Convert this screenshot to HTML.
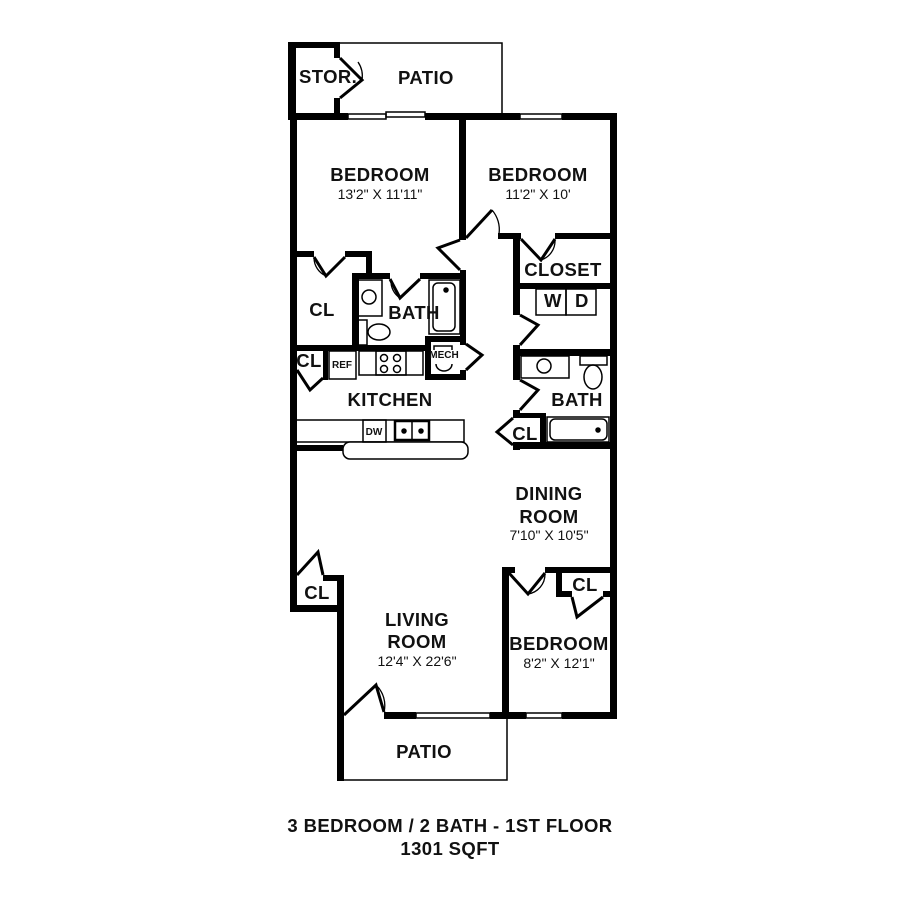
<!DOCTYPE html>
<html><head><meta charset="utf-8"><style>
html,body{margin:0;padding:0;background:#fff}
svg{display:block}
text{font-family:"Liberation Sans",sans-serif;fill:#111}
.r{font-size:18.5px;font-weight:bold;letter-spacing:0.4px}
.d{font-size:14px}
.s{font-size:10px;font-weight:bold}
</style></head><body>
<svg width="900" height="900" viewBox="0 0 900 900" xmlns="http://www.w3.org/2000/svg">
<g fill="#000">
<rect x="288" y="42" width="52" height="6"/>
<rect x="288" y="42" width="8" height="78"/>
<rect x="334" y="42" width="6" height="16"/>
<rect x="334" y="98" width="6" height="20"/>
<rect x="290" y="113" width="58" height="7"/>
<rect x="425" y="113" width="95" height="7"/>
<rect x="562" y="113" width="55" height="7"/>
<rect x="610" y="113" width="7" height="606"/>
<rect x="290" y="113" width="7" height="499"/>
<rect x="290" y="605" width="54" height="7"/>
<rect x="337" y="575" width="7" height="206"/>
<rect x="323" y="575" width="21" height="6"/>
<rect x="384" y="712" width="32" height="7"/>
<rect x="490" y="712" width="36" height="7"/>
<rect x="562" y="712" width="55" height="7"/>
<rect x="502" y="567" width="7" height="152"/>
<rect x="502" y="567" width="13" height="6"/>
<rect x="545" y="567" width="72" height="6"/>
<rect x="556" y="567" width="6" height="30"/>
<rect x="556" y="591" width="16" height="6"/>
<rect x="603" y="591" width="14" height="6"/>
<rect x="459" y="118" width="7" height="122"/>
<rect x="297" y="251" width="17" height="6"/>
<rect x="345" y="251" width="27" height="6"/>
<rect x="366" y="251" width="6" height="26"/>
<rect x="352" y="273" width="7" height="75"/>
<rect x="352" y="273" width="38" height="6"/>
<rect x="420" y="273" width="46" height="6"/>
<rect x="460" y="270" width="6" height="75"/>
<rect x="297" y="345" width="133" height="6"/>
<rect x="323" y="345" width="5" height="35"/>
<rect x="425" y="336" width="41" height="6"/>
<rect x="425" y="336" width="6" height="44"/>
<rect x="425" y="374" width="41" height="6"/>
<rect x="460" y="336" width="6" height="8"/>
<rect x="460" y="370" width="6" height="10"/>
<rect x="297" y="445" width="46" height="6"/>
<rect x="513" y="233" width="7" height="82"/>
<rect x="513" y="345" width="7" height="35"/>
<rect x="513" y="410" width="7" height="8"/>
<rect x="513" y="442" width="7" height="8"/>
<rect x="498" y="233" width="23" height="6"/>
<rect x="555" y="233" width="62" height="6"/>
<rect x="513" y="283" width="104" height="6"/>
<rect x="513" y="349" width="104" height="7"/>
<rect x="513" y="442" width="104" height="7"/>
<rect x="540" y="415" width="6" height="30"/>
<rect x="513" y="413" width="33" height="5"/>
</g>
<g fill="none" stroke="#000" stroke-width="1.5">
<polyline points="340,43 502,43 502,113"/>
<polyline points="344,780 507,780 507,719"/>
<rect x="348" y="114" width="38" height="5"/><rect x="386" y="112" width="39" height="5"/>
<rect x="520" y="114" width="42" height="5"/>
<rect x="416" y="713" width="74" height="5"/>
<rect x="526" y="713" width="36" height="5"/>
<rect x="296" y="420" width="168" height="22"/>
<rect x="343" y="442" width="125" height="17" rx="7" fill="#fff"/>
<rect x="363" y="420" width="23" height="22"/>
<rect x="395" y="421" width="34" height="19" stroke-width="2.5"/>
<circle cx="404" cy="431" r="2" fill="#000"/><circle cx="421" cy="431" r="2" fill="#000"/>
<line x1="412" y1="421" x2="412" y2="440"/>
<rect x="329" y="351" width="27" height="28"/>
<rect x="359" y="351" width="64" height="24"/>
<rect x="376" y="351" width="30" height="24"/>
<circle cx="384" cy="358" r="3.5"/><circle cx="397" cy="358" r="3.5"/>
<circle cx="384" cy="369" r="3.5"/><circle cx="397" cy="369" r="3.5"/>
<rect x="358" y="280" width="24" height="36"/>
<circle cx="369" cy="297" r="7"/>
<rect x="358" y="320" width="9" height="25"/>
<ellipse cx="379" cy="332" rx="11" ry="8"/>
<rect x="429" y="280" width="31" height="54"/>
<rect x="433" y="283" width="22" height="48" rx="5"/>
<circle cx="446" cy="290" r="2" fill="#000"/>
<path d="M434,350 v-4 h18 v4 M436,364 a8,7 0 0 0 16,0"/>
<rect x="521" y="356" width="48" height="22"/>
<circle cx="544" cy="366" r="7"/>
<rect x="580" y="356" width="27" height="9"/>
<ellipse cx="593" cy="377" rx="9" ry="12"/>
<rect x="547" y="417" width="62" height="25"/>
<rect x="550" y="419" width="57" height="21" rx="5"/>
<circle cx="598" cy="430" r="2" fill="#000"/>
<rect x="536" y="289" width="30" height="26"/>
<rect x="566" y="289" width="30" height="26"/>
</g>
<g fill="none" stroke="#000" stroke-width="3">
<path d="M340,58 L362,80 L340,98"/>
<path d="M314,257 L326,276 L345,257"/>
<path d="M390,279 L400,298 L420,279"/>
<path d="M466,238 L492,210"/>
<path d="M460,270 L438,248 L460,240"/>
<path d="M521,239 L541,260 L555,239"/>
<path d="M520,315 L538,325 L520,345"/>
<path d="M520,380 L538,390 L520,410"/>
<path d="M513,418 L497,432 L513,445"/>
<path d="M466,344 L482,355 L466,370"/>
<path d="M297,370 L310,390 L323,378"/>
<path d="M297,575 L318,552 L323,575"/>
<path d="M509,573 L528,594 L545,573"/>
<path d="M572,597 L577,617 L603,597"/>
<path d="M344,715 L376,685 L384,712"/>
</g>
<g fill="none" stroke="#000" stroke-width="1.3">
<path d="M362,80 A25,25 0 0 0 358,62"/>
<path d="M326,276 A20,20 0 0 1 314,258"/>
<path d="M400,298 A20,20 0 0 1 391,280"/>
<path d="M492,210 A30,30 0 0 1 499,234"/>
<path d="M541,260 A20,20 0 0 0 555,240"/>
<path d="M528,594 A20,20 0 0 0 545,574"/>
<path d="M376,685 A28,28 0 0 1 384,712"/>
</g>
<text class="r" x="299" y="83" font-size="16">STOR.</text>
<text class="r" x="398" y="84">PATIO</text>
<text class="r" x="380" y="181" text-anchor="middle">BEDROOM</text>
<text class="d" x="380" y="199" text-anchor="middle">13'2" X 11'11"</text>
<text class="r" x="538" y="181" text-anchor="middle">BEDROOM</text>
<text class="d" x="538" y="199" text-anchor="middle">11'2" X 10'</text>
<text class="r" x="563" y="276" text-anchor="middle">CLOSET</text>
<text class="r" x="544" y="307" font-size="15">W</text>
<text class="r" x="575" y="307" font-size="15">D</text>
<text class="r" x="322" y="316" text-anchor="middle">CL</text>
<text class="r" x="414" y="319" text-anchor="middle">BATH</text>
<text class="r" x="309" y="367" text-anchor="middle">CL</text>
<text class="s" x="342" y="368" text-anchor="middle">REF</text>
<text class="s" x="444" y="358" text-anchor="middle" font-size="7">MECH</text>
<text class="r" x="390" y="406" text-anchor="middle">KITCHEN</text>
<text class="s" x="374" y="435" text-anchor="middle">DW</text>
<text class="r" x="577" y="406" text-anchor="middle">BATH</text>
<text class="r" x="525" y="440" text-anchor="middle">CL</text>
<text class="r" x="549" y="500" text-anchor="middle">DINING</text>
<text class="r" x="549" y="523" text-anchor="middle">ROOM</text>
<text class="d" x="549" y="540" text-anchor="middle">7'10" X 10'5"</text>
<text class="r" x="317" y="599" text-anchor="middle">CL</text>
<text class="r" x="585" y="591" text-anchor="middle">CL</text>
<text class="r" x="417" y="626" text-anchor="middle">LIVING</text>
<text class="r" x="417" y="648" text-anchor="middle">ROOM</text>
<text class="d" x="417" y="666" text-anchor="middle">12'4" X 22'6"</text>
<text class="r" x="559" y="650" text-anchor="middle">BEDROOM</text>
<text class="d" x="559" y="668" text-anchor="middle">8'2" X 12'1"</text>
<text class="r" x="424" y="758" text-anchor="middle">PATIO</text>
<text class="r" x="450" y="832" text-anchor="middle" font-size="19.5">3 BEDROOM / 2 BATH  - 1ST FLOOR</text>
<text class="r" x="450" y="855" text-anchor="middle" font-size="19.5">1301 SQFT</text>
</svg>
</body></html>
